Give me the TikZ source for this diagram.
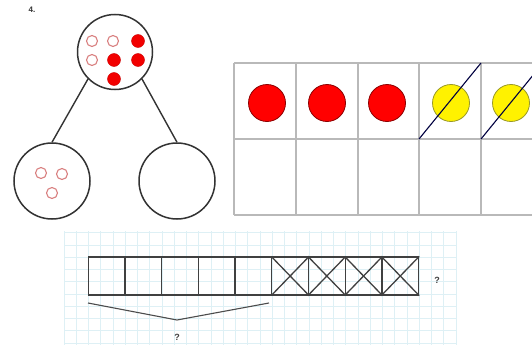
\documentclass[tikz,border=0pt]{standalone}
\usepackage{fontspec}
\setsansfont{Liberation Sans}
\begin{document}
\begin{tikzpicture}[x=1pt,y=-1pt,
  bigc/.style={circle,draw=black!80,line width=1.5pt,minimum size=76pt,inner sep=0pt},
  opendot/.style={circle,draw=pinkc,line width=1.1pt,minimum size=11pt,inner sep=0pt},
  reddot/.style={circle,fill=red!95!black,draw=red!80!black,line width=0.4pt,minimum size=13pt,inner sep=0pt},
  bigred/.style={circle,fill=red,draw=red!55!black,line width=0.8pt,minimum size=37pt,inner sep=0pt},
  bigyel/.style={circle,fill=yellow,draw=olivec,line width=0.8pt,minimum size=37pt,inner sep=0pt},
  tabline/.style={draw=gray!55,line width=1.3pt},
  slash/.style={draw=black!75!blue,line width=1.1pt},
  cellbox/.style={draw=black!75,line width=1.3pt,minimum width=36.7pt,minimum height=38pt,inner sep=0pt},
  crossln/.style={draw=black!75,line width=1.3pt},
  gridln/.style={draw=gridc,line width=0.5pt},
  qmark/.style={font=\sffamily\small\bfseries,text=black!75},
  conn/.style={draw=black!80,line width=1.4pt}]
\definecolor{pinkc}{rgb}{0.85,0.5,0.5}
\definecolor{olivec}{rgb}{0.6,0.6,0.15}
\definecolor{gridc}{rgb}{0.87,0.94,0.96}
\useasboundingbox (0,0) rectangle (532,345);
\fill[white] (0,0) rectangle (532,345);

% label
\node[font=\sffamily\footnotesize\bfseries,text=black!80] (lab) at (32,10) {4.};

% number bond
\node[bigc,minimum size=75pt] (top) at (115,52) {};
\node[bigc] (bl) at (52,181) {};
\node[bigc] (br) at (177,181) {};
\draw[conn] (top.225) -- (bl.north);
\draw[conn] (top.-45) -- (br.north);
\node[opendot] (o1) at (92,41) {};
\node[opendot] (o2) at (113,41) {};
\node[opendot] (o3) at (92,60) {};
\node[reddot] (r1) at (138,41) {};
\node[reddot] (r2) at (114,60) {};
\node[reddot] (r3) at (138,60) {};
\node[reddot] (r4) at (114,79) {};
\node[opendot] (p1) at (41,173) {};
\node[opendot] (p2) at (62,174) {};
\node[opendot] (p3) at (52,193) {};

% table
\begin{scope}
\clip (0,0) rectangle (532,345);
\foreach \x in {234,296,358,419,481} \draw[tabline] (\x,63) -- (\x,215);
\draw[tabline] (234,63) -- (545,63);
\draw[tabline] (234,139) -- (545,139);
\draw[tabline] (234,215) -- (545,215);
\node[bigred] (d1) at (267,103) {};
\node[bigred] (d2) at (327,103) {};
\node[bigred] (d3) at (387,103) {};
\node[bigyel] (y1) at (451,103) {};
\node[bigyel] (y2) at (511,103) {};
\coordinate (s1a) at (419,139); \coordinate (s1b) at (481,63);
\coordinate (s2a) at (481,139); \coordinate (s2b) at (543,63);
\draw[slash] (s1a) -- (s1b);
\draw[slash] (s2a) -- (s2b);
\end{scope}

% graph paper
\begin{scope}
\clip (64,231) rectangle (457,345);
\foreach \i in {0,...,32} \draw[gridln] (63.8+12.25*\i,231) -- ++(0,114);
\foreach \j in {0,...,9} \draw[gridln] (64,232.5+12.25*\j) -- (457,232.5+12.25*\j);
\end{scope}

% tape
\foreach \i in {1,...,9} \node[cellbox] (b\i) at (88.3+36.7*\i-18.35,276) {};
\foreach \i in {6,...,9} {
  \draw[crossln] (b\i.north west) -- (b\i.south east);
  \draw[crossln] (b\i.south west) -- (b\i.north east);
}
\node[qmark] (q1) at (437,280) {?};
\coordinate (ba) at (88,303);
\coordinate (bm) at (177,320);
\coordinate (bb) at (269,303);
\draw[conn,line width=1.1pt,draw=black!70] (ba) -- (bm) -- (bb);
\node[qmark] (q2) at (177,337) {?};
\end{tikzpicture}
\end{document}
